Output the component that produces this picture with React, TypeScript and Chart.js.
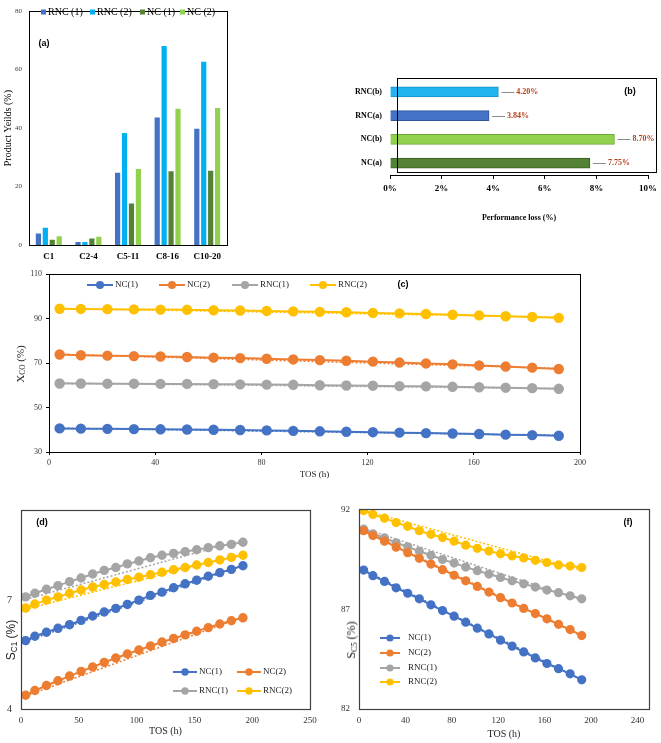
import React, { useEffect, useRef } from "react";
import { Chart, registerables } from "chart.js";

Chart.register(...registerables);

const SERIF = "'Liberation Serif', 'Times New Roman', serif";
const SANS = "'Liberation Sans', Arial, sans-serif";

// ---------- (a) product yields ----------
const A_CATEGORIES = ["C1", "C2-4", "C5-11", "C8-16", "C10-20"];
const A_SERIES = ["RNC (1)", "RNC (2)", "NC (1)", "NC (2)"];
const A_COLORS = ["#4472C4", "#00B0F0", "#548235", "#92D050"];
const A_RNC1 = [3.9, 1.0, 24.7, 43.6, 39.8];
const A_RNC2 = [5.9, 1.0, 38.3, 68.1, 62.7];
const A_NC1 = [1.8, 2.2, 14.2, 25.2, 25.4];
const A_NC2 = [3.0, 2.8, 26.0, 46.6, 46.9];
const A_Y_TICKS = [0, 20, 40, 60, 80];

// ---------- (b) performance loss ----------
const B_CATEGORIES = ["RNC(b)", "RNC(a)", "NC(b)", "NC(a)"];
const B_VALUES = [4.2, 3.84, 8.7, 7.75];
const B_COLORS = ["#22B4EE", "#4472C4", "#92D050", "#548235"];
const B_EDGES = ["#1690C0", "#2F5597", "#6FA83A", "#3B5E25"];
const B_X_TICKS = [0, 2, 4, 6, 8, 10];

// ---------- shared time on stream ----------
const TOS = [4, 12, 22, 32, 42, 52, 62, 72, 82, 92, 102, 112, 122, 132, 142, 152, 162, 172, 182, 192];
const TREND_TOS = [4, 192];
const LINE_SERIES = ["NC(1)", "NC(2)", "RNC(1)", "RNC(2)"];
const LINE_COLORS = ["#4472C4", "#ED7D31", "#A5A5A5", "#FFC000"];

// ---------- (c) CO conversion ----------
const C_NC1 = [40.6, 40.5, 40.4, 40.3, 40.2, 40.1, 40.0, 39.9, 39.7, 39.5, 39.3, 39.1, 38.9, 38.7, 38.5, 38.3, 38.1, 37.8, 37.6, 37.3];
const C_NC2 = [73.8, 73.5, 73.3, 73.1, 72.9, 72.7, 72.4, 72.2, 71.9, 71.6, 71.3, 71.0, 70.6, 70.2, 69.8, 69.4, 68.9, 68.4, 67.9, 67.3];
const C_RNC1 = [60.8, 60.8, 60.7, 60.7, 60.6, 60.6, 60.5, 60.4, 60.3, 60.2, 60.0, 59.9, 59.8, 59.6, 59.5, 59.3, 59.1, 58.9, 58.7, 58.4];
const C_RNC2 = [94.4, 94.3, 94.2, 94.1, 94.0, 93.9, 93.7, 93.6, 93.4, 93.2, 93.0, 92.8, 92.5, 92.3, 92.0, 91.7, 91.4, 91.0, 90.7, 90.3];
const C_TREND_NC1 = [40.7, 37.5];
const C_TREND_NC2 = [73.9, 67.6];
const C_TREND_RNC1 = [60.9, 58.5];
const C_TREND_RNC2 = [94.5, 90.6];
const C_X_TICKS = [0, 40, 80, 120, 160, 200];
const C_Y_TICKS = [30, 50, 70, 90, 110];

// ---------- (d) C1 selectivity ----------
const D_NC1 = [5.89, 6.01, 6.12, 6.23, 6.33, 6.45, 6.57, 6.68, 6.78, 6.89, 7.01, 7.14, 7.23, 7.35, 7.46, 7.56, 7.67, 7.77, 7.86, 7.96];
const D_NC2 = [4.38, 4.51, 4.65, 4.78, 4.91, 5.04, 5.16, 5.29, 5.41, 5.52, 5.63, 5.74, 5.85, 5.95, 6.05, 6.15, 6.25, 6.35, 6.44, 6.52];
const D_RNC1 = [7.1, 7.2, 7.31, 7.41, 7.52, 7.62, 7.73, 7.83, 7.91, 8.01, 8.09, 8.18, 8.25, 8.3, 8.35, 8.4, 8.46, 8.51, 8.55, 8.61];
const D_RNC2 = [6.79, 6.9, 7.01, 7.1, 7.2, 7.29, 7.37, 7.44, 7.51, 7.58, 7.64, 7.71, 7.78, 7.85, 7.91, 7.98, 8.05, 8.12, 8.19, 8.25];
const D_TREND_NC1 = [5.87, 7.97];
const D_TREND_NC2 = [4.36, 6.54];
const D_TREND_RNC1 = [7.03, 8.67];
const D_TREND_RNC2 = [6.76, 8.28];
const D_X_TICKS = [0, 50, 100, 150, 200, 250];
const D_Y_TICKS = [4, 7];

// ---------- (f) C5+ selectivity ----------
const F_NC1 = [88.96, 88.68, 88.39, 88.07, 87.8, 87.52, 87.22, 86.93, 86.65, 86.35, 86.05, 85.76, 85.45, 85.15, 84.86, 84.56, 84.28, 84.02, 83.76, 83.46];
const F_NC2 = [90.93, 90.69, 90.41, 90.11, 89.83, 89.55, 89.26, 88.98, 88.7, 88.42, 88.14, 87.86, 87.58, 87.31, 87.04, 86.78, 86.52, 86.24, 85.98, 85.68];
const F_RNC1 = [91.01, 90.78, 90.57, 90.33, 90.13, 89.9, 89.7, 89.49, 89.31, 89.11, 88.93, 88.76, 88.59, 88.42, 88.27, 88.11, 87.96, 87.83, 87.67, 87.52];
const F_RNC2 = [91.94, 91.75, 91.56, 91.34, 91.15, 90.93, 90.75, 90.59, 90.41, 90.21, 90.05, 89.91, 89.78, 89.67, 89.57, 89.45, 89.34, 89.22, 89.16, 89.09];
const F_TREND_NC1 = [88.97, 83.45];
const F_TREND_NC2 = [90.95, 85.65];
const F_TREND_RNC1 = [91.05, 87.45];
const F_TREND_RNC2 = [91.95, 88.95];
const F_X_TICKS = [0, 40, 80, 120, 160, 200, 240];
const F_Y_TICKS = [82, 87, 92];

// ---------- helpers ----------
type Pos = [number, number];

function overlayPlugin(o: any) {
  return {
    id: "overlay",
    afterDraw(chart: any) {
      const ctx = chart.ctx as CanvasRenderingContext2D;
      const a = chart.chartArea;
      ctx.save();
      if (o.frame) {
        const f = o.frame;
        ctx.strokeStyle = f.color;
        ctx.lineWidth = f.width;
        const l = Math.round(a.left + (f.dl || 0)) + 0.5;
        const t = Math.round(a.top + (f.dt || 0)) + 0.5;
        const r = Math.round(a.right + (f.dr || 0)) + 0.5;
        const b = Math.round(a.bottom + (f.db || 0)) + 0.5;
        ctx.strokeRect(l, t, r - l, b - t);
      }
      if (o.barLabels) {
        const bl = o.barLabels;
        const meta = chart.getDatasetMeta(0);
        const ds = chart.data.datasets[0].data;
        meta.data.forEach((bar: any, i: number) => {
          const x = bar.x;
          const y = bar.y;
          ctx.strokeStyle = bl.lineColor;
          ctx.lineWidth = 1;
          ctx.beginPath();
          ctx.moveTo(x + 3, Math.round(y) + 0.5);
          ctx.lineTo(x + bl.len, Math.round(y) + 0.5);
          ctx.stroke();
          ctx.fillStyle = bl.color;
          ctx.font = bl.font;
          ctx.textAlign = "left";
          ctx.textBaseline = "middle";
          ctx.fillText(Number(ds[i]).toFixed(2) + "%", x + bl.len + 2, y);
        });
      }
      if (o.legend) {
        const lg = o.legend;
        lg.items.forEach((it: any) => {
          const x = it.x - o.ox;
          const y = it.y - o.oy;
          let tx = x;
          if (lg.kind === "box") {
            ctx.fillStyle = it.color;
            ctx.fillRect(x, y - lg.size / 2, lg.size, lg.size);
            tx = x + lg.size + lg.gap;
          } else {
            ctx.strokeStyle = it.color;
            ctx.lineWidth = 2;
            ctx.beginPath();
            ctx.moveTo(x, y);
            ctx.lineTo(x + lg.size, y);
            ctx.stroke();
            ctx.fillStyle = it.color;
            ctx.beginPath();
            ctx.arc(x + lg.size / 2, y, lg.radius, 0, Math.PI * 2);
            ctx.fill();
            tx = x + lg.size + lg.gap;
          }
          ctx.fillStyle = lg.color;
          ctx.font = lg.font;
          ctx.textAlign = "left";
          ctx.textBaseline = "middle";
          ctx.fillText(it.label, tx, y);
        });
      }
      (o.texts || []).forEach((t: any) => {
        ctx.fillStyle = t.color;
        ctx.font = t.font;
        ctx.textAlign = t.align || "center";
        ctx.textBaseline = "middle";
        ctx.fillText(t.text, t.x - o.ox, t.y - o.oy);
      });
      ctx.restore();
    },
  };
}

function legendItems(labels: string[], colors: string[], pos: Pos[]) {
  return labels.map((label, i) => ({ label, color: colors[i], x: pos[i][0], y: pos[i][1] }));
}

function lineSets(series: number[][], trends: number[][], radius: number) {
  const sets: any[] = series.map((vals, i) => ({
    label: LINE_SERIES[i],
    data: TOS.map((x, j) => ({ x, y: vals[j] })),
    borderColor: LINE_COLORS[i],
    backgroundColor: LINE_COLORS[i],
    pointBackgroundColor: LINE_COLORS[i],
    pointBorderColor: LINE_COLORS[i],
    borderWidth: 2,
    pointRadius: radius,
    pointHoverRadius: radius,
    tension: 0,
  }));
  trends.forEach((vals, i) =>
    sets.push({
      label: LINE_SERIES[i] + " trend",
      data: TREND_TOS.map((x, j) => ({ x, y: vals[j] })),
      borderColor: LINE_COLORS[i],
      borderWidth: 1.5,
      borderDash: [2, 2],
      pointRadius: 0,
      tension: 0,
    })
  );
  return sets;
}

const setTicks = (vals: number[]) => (s: any) => {
  s.ticks = vals.map((v) => ({ value: v }));
};

const baseOptions = (padding: any) => ({
  responsive: false,
  animation: false,
  devicePixelRatio: 1,
  events: [],
  layout: { padding },
  plugins: { legend: { display: false }, tooltip: { enabled: false } },
});

// ---------- panel configs ----------
function makeA() {
  const vals = [A_RNC1, A_RNC2, A_NC1, A_NC2];
  return {
    type: "bar",
    data: {
      labels: A_CATEGORIES,
      datasets: A_SERIES.map((s, i) => ({
        label: s,
        data: vals[i],
        backgroundColor: A_COLORS[i],
        barPercentage: 0.75,
        categoryPercentage: 0.7,
      })),
    },
    options: {
      ...baseOptions({ left: 0, top: 5, right: 13, bottom: 0 }),
      scales: {
        x: {
          grid: { display: false, drawTicks: false },
          border: { display: false },
          ticks: { font: { family: SERIF, size: 9, weight: "bold" }, color: "#000", padding: 6, autoSkip: false, maxRotation: 0 },
          afterFit: (s: any) => { s.height = 30; },
        },
        y: {
          min: 0,
          max: 80,
          afterBuildTicks: setTicks(A_Y_TICKS),
          grid: { display: false, drawTicks: false },
          border: { display: false },
          ticks: { font: { family: SERIF, size: 7 }, color: "#404040", padding: 7 },
          title: { display: true, text: "Product Yeilds (%)", font: { family: SERIF, size: 10 }, color: "#000", padding: { top: 2, bottom: 0 } },
          afterFit: (s: any) => { s.width = 29; },
        },
      },
    },
    plugins: [
      overlayPlugin({
        ox: 0,
        oy: 0,
        frame: { color: "#000", width: 1 },
        legend: {
          kind: "box", size: 5, gap: 2, font: `10px ${SERIF}`, color: "#000",
          items: legendItems(A_SERIES, A_COLORS, [[41, 12], [90, 12], [140, 12], [180, 12]]),
        },
        texts: [{ text: "(a)", x: 44, y: 44, font: `bold 9px ${SANS}`, color: "#000" }],
      }),
    ],
  };
}

function makeB() {
  return {
    type: "bar",
    data: {
      labels: B_CATEGORIES,
      datasets: [
        {
          label: "Performance loss",
          data: B_VALUES,
          backgroundColor: B_COLORS,
          borderColor: B_EDGES,
          borderWidth: 1,
          barThickness: 10,
        },
      ],
    },
    options: {
      ...baseOptions({ left: 0, top: 20, right: 11, bottom: 0 }),
      indexAxis: "y",
      scales: {
        x: {
          type: "linear",
          min: 0,
          max: 10,
          afterBuildTicks: setTicks(B_X_TICKS),
          grid: { display: true, drawOnChartArea: false, drawTicks: true, tickLength: 4, color: "#000" },
          border: { display: true, color: "#000" },
          ticks: { font: { family: SERIF, size: 9, weight: "bold" }, color: "#000", padding: 4, callback: (v: any) => v + "%" },
          title: { display: true, text: "Performance loss (%)", font: { family: SERIF, size: 8, weight: "bold" }, color: "#000", padding: { top: 0, bottom: 7 } },
          afterFit: (s: any) => { s.height = 55; },
        },
        y: {
          grid: { display: false, drawTicks: false },
          border: { display: false },
          ticks: { font: { family: SERIF, size: 8, weight: "bold" }, color: "#000", padding: 8 },
          afterFit: (s: any) => { s.width = 90; },
        },
      },
    },
    plugins: [
      overlayPlugin({
        ox: 300,
        oy: 60,
        frame: { color: "#000", width: 1, dl: 7, dt: -2, dr: 8, db: -3 },
        barLabels: { font: `bold 8px ${SERIF}`, color: "#B5401A", lineColor: "#8C8C8C", len: 16 },
        texts: [{ text: "(b)", x: 630, y: 92, font: `bold 9px ${SANS}`, color: "#000" }],
      }),
    ],
  };
}

function makeC() {
  return {
    type: "line",
    data: {
      datasets: lineSets([C_NC1, C_NC2, C_RNC1, C_RNC2], [C_TREND_NC1, C_TREND_NC2, C_TREND_RNC1, C_TREND_RNC2], 4.2),
    },
    options: {
      ...baseOptions({ left: 0, top: 12, right: 20, bottom: 0 }),
      scales: {
        x: {
          type: "linear",
          min: 0,
          max: 200,
          afterBuildTicks: setTicks(C_X_TICKS),
          grid: { display: true, drawOnChartArea: false, drawTicks: true, tickLength: 3, color: "#000" },
          border: { display: true, color: "#000" },
          ticks: { font: { family: SERIF, size: 8 }, color: "#333", padding: 3 },
          title: { display: true, text: "TOS (h)", font: { family: SERIF, size: 9 }, color: "#222", padding: { top: 0, bottom: 2 } },
          afterFit: (s: any) => { s.height = 30; },
        },
        y: {
          min: 30,
          max: 110,
          afterBuildTicks: setTicks(C_Y_TICKS),
          grid: { display: true, drawOnChartArea: false, drawTicks: true, tickLength: 3, color: "#000" },
          border: { display: true, color: "#000" },
          ticks: { font: { family: SERIF, size: 8 }, color: "#333", padding: 4 },
          afterFit: (s: any) => { s.width = 49; },
        },
      },
    },
    plugins: [
      overlayPlugin({
        ox: 0,
        oy: 262,
        frame: { color: "#000", width: 1 },
        legend: {
          kind: "line", size: 26, radius: 4, gap: 2, font: `9px ${SERIF}`, color: "#222",
          items: legendItems(LINE_SERIES, LINE_COLORS, [[87, 285], [159, 285], [232, 285], [310, 285]]),
        },
        texts: [{ text: "(c)", x: 403, y: 285, font: `bold 9px ${SANS}`, color: "#000" }],
      }),
    ],
  };
}

function makeD() {
  return {
    type: "line",
    data: {
      datasets: lineSets([D_NC1, D_NC2, D_RNC1, D_RNC2], [D_TREND_NC1, D_TREND_NC2, D_TREND_RNC1, D_TREND_RNC2], 3.7),
    },
    options: {
      ...baseOptions({ left: 0, top: 10, right: 20, bottom: 0 }),
      scales: {
        x: {
          type: "linear",
          min: 0,
          max: 250,
          afterBuildTicks: setTicks(D_X_TICKS),
          grid: { display: false, drawTicks: false },
          border: { display: false },
          ticks: { font: { family: SERIF, size: 9 }, color: "#333", padding: 6 },
          title: { display: true, text: "TOS (h)", font: { family: SERIF, size: 10 }, color: "#222", padding: { top: 0, bottom: 6 } },
          afterFit: (s: any) => { s.height = 34; },
        },
        y: {
          min: 4,
          max: 9.5,
          afterBuildTicks: setTicks(D_Y_TICKS),
          grid: { display: false, drawTicks: false },
          border: { display: false },
          ticks: { font: { family: SERIF, size: 10 }, color: "#333", padding: 9 },
          afterFit: (s: any) => { s.width = 21; },
        },
      },
    },
    plugins: [
      overlayPlugin({
        ox: 0,
        oy: 495,
        frame: { color: "#404040", width: 1.2 },
        legend: {
          kind: "line", size: 24, radius: 3.7, gap: 2, font: `9px ${SERIF}`, color: "#222",
          items: legendItems(LINE_SERIES, LINE_COLORS, [[173, 672], [237, 672], [173, 691], [237, 691]]),
        },
        texts: [{ text: "(d)", x: 42, y: 523, font: `bold 9px ${SANS}`, color: "#000" }],
      }),
    ],
  };
}

function makeF() {
  return {
    type: "line",
    data: {
      datasets: lineSets([F_NC1, F_NC2, F_RNC1, F_RNC2], [F_TREND_NC1, F_TREND_NC2, F_TREND_RNC1, F_TREND_RNC2], 3.6),
    },
    options: {
      ...baseOptions({ left: 0, top: 11, right: 12, bottom: 0 }),
      scales: {
        x: {
          type: "linear",
          min: 0,
          max: 250,
          afterBuildTicks: setTicks(F_X_TICKS),
          grid: { display: false, drawTicks: false },
          border: { display: false },
          ticks: { font: { family: SERIF, size: 9 }, color: "#333", padding: 6 },
          title: { display: true, text: "TOS (h)", font: { family: SERIF, size: 10 }, color: "#222", padding: { top: 0, bottom: 3 } },
          afterFit: (s: any) => { s.height = 34; },
        },
        y: {
          min: 82,
          max: 92,
          afterBuildTicks: setTicks(F_Y_TICKS),
          grid: { display: false, drawTicks: false },
          border: { display: false },
          ticks: { font: { family: SERIF, size: 9 }, color: "#333", padding: 9 },
          afterFit: (s: any) => { s.width = 29; },
        },
      },
    },
    plugins: [
      overlayPlugin({
        ox: 330,
        oy: 495,
        frame: { color: "#404040", width: 1.2 },
        legend: {
          kind: "line", size: 20, radius: 3.6, gap: 8, font: `9px ${SERIF}`, color: "#222",
          items: legendItems(LINE_SERIES, LINE_COLORS, [[380, 638], [380, 653], [380, 668], [380, 682]]),
        },
        texts: [{ text: "(f)", x: 628, y: 523, font: `bold 9px ${SANS}`, color: "#000" }],
      }),
    ],
  };
}

// ---------- components ----------
type Box = { left: number; top: number; width: number; height: number };

function ChartCanvas({ box, make }: { box: Box; make: () => any }) {
  const ref = useRef<HTMLCanvasElement>(null);
  useEffect(() => {
    const chart = new Chart(ref.current as HTMLCanvasElement, make() as any);
    return () => chart.destroy();
  }, []);
  return (
    <canvas
      ref={ref}
      width={box.width}
      height={box.height}
      style={{ position: "absolute", left: box.left, top: box.top, width: box.width, height: box.height }}
    />
  );
}

function RotTitle({ x, y, font, size, children }: { x: number; y: number; font: string; size: number; children: any }) {
  return (
    <div
      style={{
        position: "absolute",
        left: x,
        top: y,
        transform: "translate(-50%, -50%) rotate(-90deg)",
        fontFamily: font,
        fontSize: size,
        lineHeight: 1,
        whiteSpace: "nowrap",
        color: "#222",
      }}
    >
      {children}
    </div>
  );
}

const subStyle: React.CSSProperties = { fontSize: "0.68em", verticalAlign: "-0.25em", lineHeight: 0 };

export default function App() {
  return (
    <div style={{ position: "absolute", left: 0, top: 0, width: 661, height: 743, background: "#fff", overflow: "hidden" }}>
      <ChartCanvas box={{ left: 0, top: 0, width: 240, height: 275 }} make={makeA} />
      <ChartCanvas box={{ left: 300, top: 60, width: 361, height: 170 }} make={makeB} />
      <ChartCanvas box={{ left: 0, top: 262, width: 600, height: 220 }} make={makeC} />
      <ChartCanvas box={{ left: 0, top: 495, width: 330, height: 248 }} make={makeD} />
      <ChartCanvas box={{ left: 330, top: 495, width: 331, height: 248 }} make={makeF} />
      <RotTitle x={20} y={364} font={SERIF} size={11}>
        X<span style={subStyle}>CO</span> (%)
      </RotTitle>
      <RotTitle x={11} y={640} font={SANS} size={12}>
        S<span style={subStyle}>C1</span> (%)
      </RotTitle>
      <RotTitle x={351} y={640} font={SERIF} size={12}>
        S<span style={subStyle}>C5</span> (%)
      </RotTitle>
    </div>
  );
}
